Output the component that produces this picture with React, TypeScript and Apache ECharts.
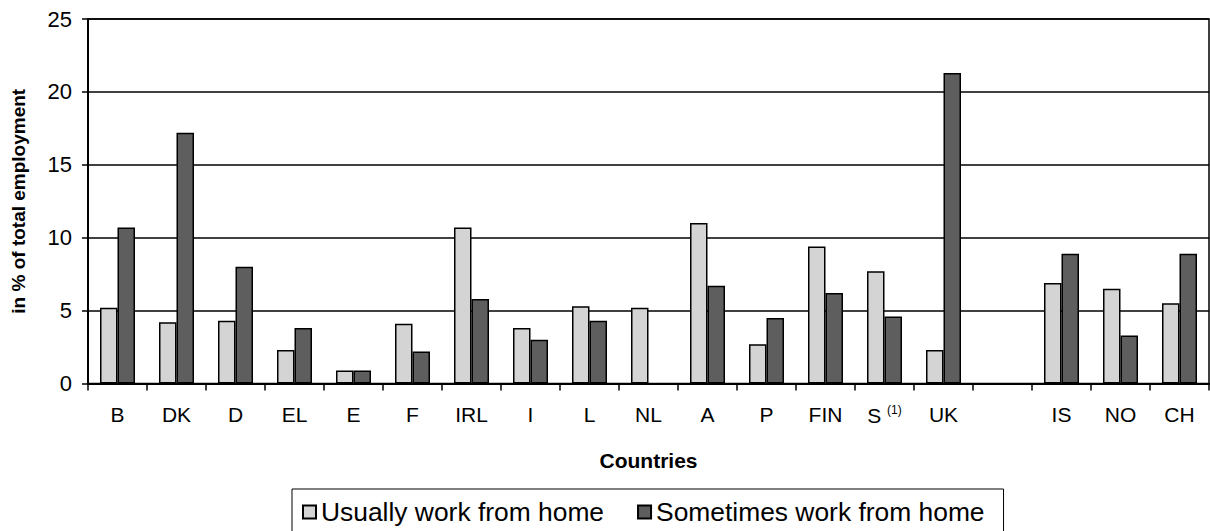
import React, { useEffect, useRef } from "react";
import * as echarts from "echarts";

const countries = ["B", "DK", "D", "EL", "E", "F", "IRL", "I", "L", "NL", "A", "P", "FIN", "S", "UK", "", "IS", "NO", "CH"];
const usually = [5.2, 4.2, 4.3, 2.3, 0.9, 4.1, 10.7, 3.8, 5.3, 5.2, 11.0, 2.7, 9.4, 7.7, 2.3, null, 6.9, 6.5, 5.5];
const sometimes = [10.7, 17.2, 8.0, 3.8, 0.9, 2.2, 5.8, 3.0, 4.3, null, 6.7, 4.5, 6.2, 4.6, 21.3, null, 8.9, 3.3, 8.9];
const seriesNames = ["Usually work from home", "Sometimes work from home"];
const yTicks = { min: 0, max: 25, interval: 5 };

const FONT = "'Liberation Sans', Arial, sans-serif";

export default function App() {
  const ref = useRef<HTMLDivElement>(null);
  useEffect(() => {
    document.body.style.margin = "0";
    if (!ref.current) return;
    const chart = echarts.init(ref.current, undefined, { renderer: "svg" });
    chart.setOption({
      animation: false,
      textStyle: { fontFamily: FONT, color: "#000" },
      grid: {
        left: 88,
        right: 1,
        top: 19,
        bottom: 147.5,
        show: true,
        borderColor: "#000",
        borderWidth: 1.5,
        containLabel: false,
      },
      legend: {
        left: 292,
        top: 489,
        orient: "horizontal",
        padding: [10, 19, 10, 10],
        itemGap: 33,
        itemWidth: 13,
        itemHeight: 13,
        borderColor: "#000",
        borderWidth: 1,
        icon: "rect",
        textStyle: { fontSize: 26.4, fontFamily: FONT, color: "#000" },
        data: seriesNames,
      },
      xAxis: {
        type: "category",
        data: countries,
        name: "Countries",
        nameLocation: "middle",
        nameGap: 66,
        nameTextStyle: { fontSize: 21, fontWeight: "bold", color: "#000", fontFamily: FONT },
        axisLine: { show: true, lineStyle: { color: "#000", width: 2 } },
        axisTick: { show: true, alignWithLabel: false, length: 7, lineStyle: { color: "#000", width: 1.5 } },
        axisLabel: {
          interval: 0,
          fontSize: 21,
          margin: 20,
          color: "#000",
          fontFamily: FONT,
          formatter: (v: string) => (v === "S" ? "{a|S }{sup|(1)}" : v),
          rich: {
            a: { fontSize: 21, fontFamily: FONT, color: "#000" },
            sup: { fontSize: 12, fontFamily: FONT, color: "#000", padding: [0, 0, 12, 0] },
          },
        },
        splitLine: { show: false },
      },
      yAxis: {
        type: "value",
        min: yTicks.min,
        max: yTicks.max,
        interval: yTicks.interval,
        name: "in % of total employment",
        nameLocation: "middle",
        nameGap: 60,
        nameTextStyle: { fontSize: 19, fontWeight: "bold", color: "#000", fontFamily: FONT },
        axisLine: { show: true, lineStyle: { color: "#000", width: 2 } },
        axisTick: { show: true, length: 6, lineStyle: { color: "#000", width: 1.5 } },
        axisLabel: { fontSize: 22, margin: 16, color: "#000", fontFamily: FONT },
        splitLine: { show: true, lineStyle: { color: "#000", width: 1.5 } },
      },
      series: [
        {
          name: seriesNames[0],
          type: "bar",
          data: usually,
          barWidth: 17.5,
          barGap: "0%",
          itemStyle: { color: "#d4d4d4", borderColor: "#000", borderWidth: 1.5 },
        },
        {
          name: seriesNames[1],
          type: "bar",
          data: sometimes,
          barWidth: 17.5,
          barGap: "0%",
          itemStyle: { color: "#5e5e5e", borderColor: "#000", borderWidth: 1.5 },
        },
      ],
    });
    return () => chart.dispose();
  }, []);
  return <div ref={ref} style={{ width: 1210, height: 531 }} />;
}
